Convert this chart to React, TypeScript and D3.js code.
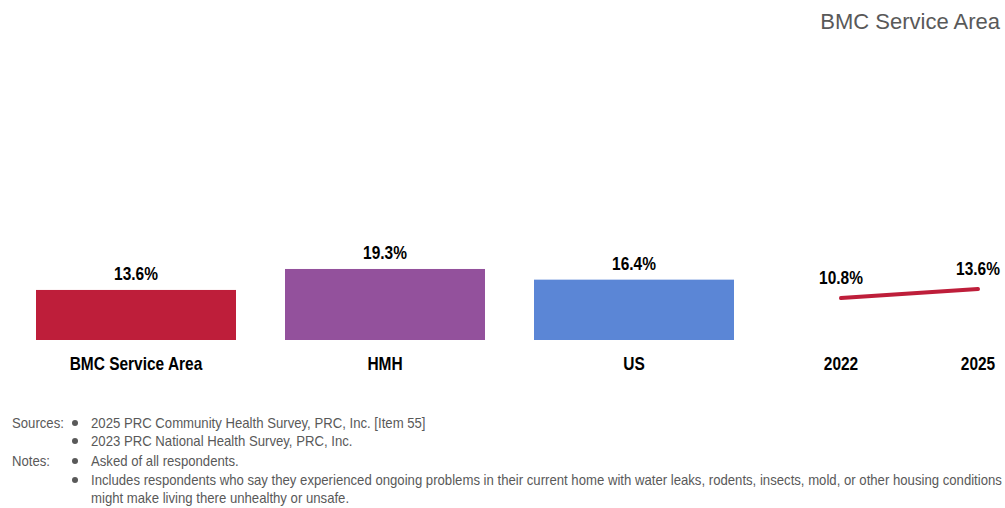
import { useEffect, useRef } from 'react';
import * as d3 from 'd3';

const categories = ["BMC Service Area", "HMH", "US"];
const barValues = [13.6, 19.3, 16.4];
const barColors = ["#BE1E3A", "#93519C", "#5B86D6"];

const trendYears = ["2022", "2025"];
const trendValues = [10.8, 13.6];

const title = "BMC Service Area";

const sources = [
    "2025 PRC Community Health Survey, PRC, Inc. [Item 55]",
    "2023 PRC National Health Survey, PRC, Inc."
];
const notes = [
    "Asked of all respondents.",
    "Includes respondents who say they experienced ongoing problems in their current home with water leaks, rodents, insects, mold, or other housing conditions that",
    "might make living there unhealthy or unsafe."
];

export default function App() {
    const svgRef = useRef<SVGSVGElement>(null);

    useEffect(() => {
        if (!svgRef.current) return;
        const svg = d3.select(svgRef.current);
        svg.selectAll("*").remove();

        const width = 1005;
        const height = 508;
        const font = "'Liberation Sans', Arial, sans-serif";
        const baseY = 340;
        const boldScale = 0.86; // mimic Arial Narrow
        const footScale = 0.94;

        svg.attr("width", width).attr("height", height);

        // Title
        svg.append("text")
            .attr("x", 1000)
            .attr("y", 29)
            .attr("text-anchor", "end")
            .style("font-family", font)
            .style("font-size", "22px")
            .style("fill", "#595959")
            .text(title);

        // Bar scales
        const x = d3.scaleBand()
            .domain(categories)
            .range([36, 734])
            .paddingInner(49 / 249)
            .paddingOuter(0);

        const y = d3.scaleLinear()
            .domain([0, 20])
            .range([baseY, baseY - 20 * 3.68]);

        const boldText = (g: any) => g
            .attr("text-anchor", "middle")
            .style("font-family", font)
            .style("font-weight", "bold")
            .style("font-size", "18px")
            .style("fill", "#000");

        const bars = svg.append("g");
        bars.selectAll("rect")
            .data(categories)
            .join("rect")
            .attr("x", d => x(d) || 0)
            .attr("width", x.bandwidth())
            .attr("y", (d, i) => y(barValues[i]))
            .attr("height", (d, i) => y(0) - y(barValues[i]))
            .attr("fill", (d, i) => barColors[i]);

        bars.selectAll("text.value")
            .data(categories)
            .join("text")
            .attr("class", "value")
            .attr("transform", (d, i) => `translate(${(x(d) || 0) + x.bandwidth() / 2},${y(barValues[i]) - 10}) scale(${boldScale},1)`)
            .call(boldText)
            .text((d, i) => `${barValues[i].toFixed(1)}%`);

        bars.selectAll("text.cat")
            .data(categories)
            .join("text")
            .attr("class", "cat")
            .attr("transform", d => `translate(${(x(d) || 0) + x.bandwidth() / 2},370) scale(${boldScale},1)`)
            .call(boldText)
            .text(d => d);

        // Trend line
        const xt = d3.scalePoint()
            .domain(trendYears)
            .range([841, 978]);

        const yt = d3.scaleLinear()
            .domain([0, 20])
            .range([332.6, 332.6 - 20 * 3.2]);

        const line = d3.line<number>()
            .x((d, i) => xt(trendYears[i]) || 0)
            .y(d => yt(d));

        svg.append("path")
            .datum(trendValues)
            .attr("d", line)
            .attr("fill", "none")
            .attr("stroke", "#BE1E3A")
            .attr("stroke-width", 4)
            .attr("stroke-linecap", "round");

        svg.append("g")
            .selectAll("text")
            .data(trendValues)
            .join("text")
            .attr("transform", (d, i) => `translate(${xt(trendYears[i]) || 0},${yt(d) - 14}) scale(${boldScale},1)`)
            .call(boldText)
            .text(d => `${d.toFixed(1)}%`);

        svg.append("g")
            .selectAll("text")
            .data(trendYears)
            .join("text")
            .attr("transform", d => `translate(${xt(d) || 0},370) scale(${boldScale},1)`)
            .call(boldText)
            .text(d => d);

        // Footnotes
        const foot = svg.append("g")
            .style("font-family", font)
            .style("font-size", "14px")
            .style("fill", "#595959");

        const rows = [
            { label: "Sources:", bullet: true, text: sources[0], y: 428 },
            { label: "", bullet: true, text: sources[1], y: 446 },
            { label: "Notes:", bullet: true, text: notes[0], y: 466 },
            { label: "", bullet: true, text: notes[1], y: 485 },
            { label: "", bullet: false, text: notes[2], y: 503 }
        ];

        rows.forEach(r => {
            if (r.label) {
                foot.append("text")
                    .attr("transform", `translate(12,${r.y}) scale(${footScale},1)`)
                    .text(r.label);
            }
            if (r.bullet) {
                foot.append("circle")
                    .attr("cx", 75)
                    .attr("cy", r.y - 5)
                    .attr("r", 3)
                    .attr("fill", "#595959");
            }
            foot.append("text")
                .attr("transform", `translate(91,${r.y}) scale(${footScale},1)`)
                .text(r.text);
        });
    }, []);

    return (
        <svg ref={svgRef} style={{ position: "absolute", top: 0, left: 0, display: "block" }}></svg>
    );
}
